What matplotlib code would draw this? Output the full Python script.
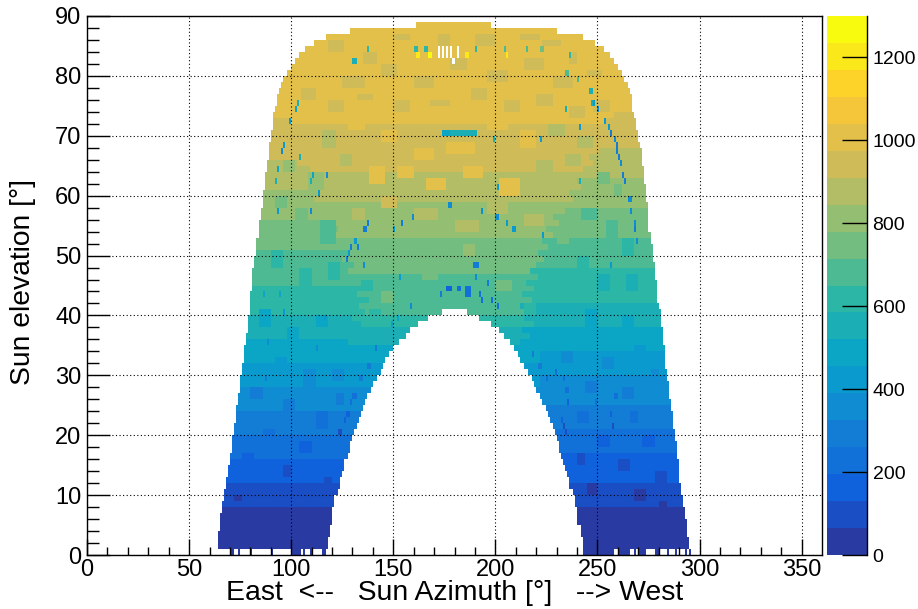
import numpy as np
import matplotlib
matplotlib.use('Agg')
import matplotlib.pyplot as plt
from matplotlib.colors import LinearSegmentedColormap, ListedColormap, BoundaryNorm

plt.rcParams['font.family'] = ['Liberation Sans', 'DejaVu Sans']

# outer edges of the filled area per 1 deg elevation row (row 0 is handled apart)
left_edge = [64, 64, 64, 64, 65, 65, 65, 66, 66, 67, 67, 68, 68, 69, 69, 70, 70, 71, 71, 71,
             72, 72, 73, 73, 73, 74, 74, 75, 75, 75, 76, 76, 77, 77, 77, 78, 78, 79, 79, 79,
             80, 80, 80, 80, 81, 81, 81, 81, 82, 82, 83, 83, 83, 84, 84, 84, 85, 85, 86, 86,
             86, 87, 87, 87, 88, 88, 89, 89, 89, 90, 90, 91, 91, 91, 92, 93, 93, 94, 95, 96,
             98, 100, 102, 104, 107, 111, 117, 129, 161]
right_edge = [296, 295, 295, 294, 294, 294, 293, 293, 292, 292, 291, 291, 290, 290, 290, 290, 289, 289, 289, 288,
              288, 287, 287, 287, 286, 286, 285, 285, 285, 284, 284, 283, 283, 283, 283, 282, 282, 282, 281, 281,
              281, 280, 279, 279, 279, 279, 278, 278, 278, 277, 277, 277, 276, 276, 275, 275, 275, 275, 275, 274,
              274, 274, 273, 273, 273, 272, 272, 272, 271, 270, 270, 269, 269, 268, 267, 267, 267, 266, 265, 263,
              262, 260, 258, 256, 253, 249, 243, 230, 198]
# the empty hole under the arc, rows 0 to 40
hole_left = [118, 118, 118, 119, 119, 120, 120, 120, 121, 121, 123, 124, 124, 125, 126, 126, 128, 129, 129, 130,
             131, 132, 133, 134, 135, 136, 137, 139, 140, 142, 144, 145, 146, 148, 150, 153, 156, 158, 162, 167,
             174]
hole_right = [243, 243, 243, 242, 242, 240, 240, 240, 239, 239, 238, 236, 236, 235, 234, 233, 232, 231, 231, 230,
              229, 228, 227, 226, 225, 223, 222, 220, 219, 218, 216, 214, 212, 211, 209, 207, 204, 202, 198, 192,
              186]
# bottom row only has a few filled stretches
row0_stretches = [(70, 72), (74, 75), (80, 81), (90, 91), (100, 105), (106, 107), (109, 110), (115, 117),
                  (243, 258), (260, 266), (268, 269), (270, 274), (278, 280), (284, 285), (288, 289), (293, 294), (295, 296)]

# irradiance per elevation row for the east flank, the middle and the west flank
east_vals = [40, 40, 42, 44, 46, 48, 52, 60, 72, 88, 105, 122, 140, 152, 170, 190, 200, 215, 235, 255,
             270, 285, 300, 315, 330, 345, 358, 375, 395, 415, 430, 445, 462, 478, 495, 510, 525, 545, 560, 575,
             590, 605, 620, 632, 642, 655, 665, 675, 690, 700, 712, 725, 738, 750, 762, 775, 790, 800, 815, 825,
             838, 852, 865, 880, 890, 905, 915, 925, 935, 945, 955, 965, 970, 975, 980, 985, 990, 995, 1000, 1000,
             1005, 1005, 1005, 1010, 1010, 1010, 1010, 1010, 1010]
mid_vals = [40, 40, 42, 44, 46, 48, 52, 60, 72, 88, 105, 122, 140, 152, 170, 190, 200, 215, 235, 255,
            270, 285, 300, 315, 330, 345, 358, 375, 395, 415, 430, 445, 462, 478, 495, 520, 545, 570, 595, 620,
            650, 655, 662, 670, 675, 680, 700, 715, 725, 740, 755, 765, 775, 785, 795, 805, 815, 825, 838, 850,
            860, 875, 890, 905, 915, 925, 935, 945, 955, 960, 965, 970, 980, 985, 990, 985, 990, 995, 1000, 1000,
            1005, 1005, 1008, 1010, 1010, 1015, 1015, 1015, 1015]
west_vals = [40, 40, 42, 44, 46, 48, 52, 58, 68, 82, 100, 115, 132, 145, 160, 180, 192, 205, 222, 240,
             255, 270, 285, 300, 315, 330, 345, 358, 372, 388, 400, 415, 430, 445, 458, 472, 490, 510, 528, 545,
             560, 572, 585, 598, 610, 620, 632, 645, 658, 668, 680, 695, 708, 722, 735, 750, 762, 775, 788, 800,
             810, 825, 840, 855, 868, 880, 895, 905, 918, 930, 940, 950, 960, 968, 975, 985, 990, 995, 1000, 1000,
             1003, 1005, 1005, 1010, 1010, 1010, 1010, 1010, 1010]
# where the flanks end, row by row: the change of colour wanders along the sun tracks
zone_east_end = [120, 120, 120, 120, 120, 120, 120, 120, 120, 120, 120, 120, 120, 120, 120, 120, 120, 120, 120, 120,
                 120, 120, 120, 120, 120, 120, 120, 120, 120, 120, 120, 120, 120, 120, 125, 128, 125, 130, 134, 130,
                 136, 133, 138, 132, 135, 130, 134, 128, 131, 125, 128, 122, 125, 120, 123, 116, 119, 114, 117, 111,
                 114, 108, 111, 106, 109, 103, 106, 101, 104, 99, 102, 98, 100, 96, 99, 96, 96, 96, 96, 96,
                 96, 96, 96, 96, 96, 96, 96, 96, 96]
zone_west_start = [222, 222, 222, 222, 222, 222, 222, 222, 222, 222, 222, 222, 222, 222, 222, 222, 222, 222, 222, 222,
                   222, 222, 222, 222, 222, 222, 222, 222, 222, 222, 222, 222, 222, 222, 215, 212, 217, 213, 219, 214,
                   216, 212, 218, 213, 219, 215, 221, 217, 220, 224, 221, 226, 223, 228, 225, 231, 228, 234, 232, 238,
                   236, 242, 240, 245, 243, 248, 246, 251, 249, 254, 252, 256, 254, 258, 256, 260, 260, 260, 260, 260,
                   260, 260, 260, 260, 260, 260, 260, 260, 260]

# single cells and short bars: az from, az to, elevation row, value
streaks = [
    (103, 104, 75, 520), (102, 103, 74, 480), (99, 100, 72, 400), (96, 97, 68, 430), (95, 96, 67, 350),
    (93, 94, 64, 500), (92, 93, 62, 540), (104, 105, 66, 560), (110, 111, 63, 480), (109, 110, 62, 520),
    (117, 118, 63, 380), (113, 114, 60, 400), (93, 94, 57, 450), (109, 110, 57, 380), (137, 138, 55, 300),
    (135, 137, 54, 300), (154, 155, 55, 280), (159, 160, 56, 330), (177, 179, 58, 330), (150, 151, 54, 450),
    (131, 132, 52, 420), (129, 130, 51, 300), (132, 133, 51, 300), (128, 129, 50, 420), (127, 128, 49, 280),
    (135, 136, 48, 330), (174, 179, 70, 500), (178, 191, 70, 520), (199, 200, 69, 520), (248, 249, 75, 430),
    (250, 251, 74, 380), (253, 254, 72, 400), (255, 256, 71, 400), (256, 257, 70, 300), (258, 259, 69, 330),
    (259, 260, 68, 300), (259, 260, 67, 280), (260, 261, 66, 300), (261, 262, 65, 330), (262, 263, 63, 300),
    (263, 264, 62, 300), (265, 267, 59, 350), (266, 267, 57, 350), (268, 269, 55, 350), (268, 269, 54, 300),
    (269, 270, 52, 330), (241, 242, 71, 420), (222, 223, 69, 430), (234, 235, 74, 520), (201, 202, 61, 420),
    (193, 194, 57, 380), (200, 202, 56, 330), (205, 206, 55, 420), (208, 210, 54, 400), (223, 224, 53, 430),
    (241, 242, 62, 520), (189, 192, 48, 300), (256, 257, 48, 400), (178, 179, 58, 350),
    (176, 179, 44, 190), (181, 183, 44, 210), (185, 188, 44, 220), (185, 188, 43, 200), (192, 193, 43, 230),
    (173, 174, 43, 260), (190, 191, 46, 330), (196, 197, 45, 300), (193, 194, 42, 240), (198, 199, 42, 240),
    (201, 202, 41, 220), (158, 159, 41, 360), (153, 154, 46, 400),
    # dark arcs on the two legs
    (218, 219, 33, 300), (221, 223, 31, 270), (225, 226, 29, 240), (229, 230, 30, 240), (233, 234, 29, 220),
    (234, 236, 27, 200), (235, 236, 25, 190), (232, 233, 22, 130), (233, 234, 21, 120), (234, 235, 20, 110),
    (257, 258, 21, 110), (256, 257, 23, 170), (258, 260, 26, 210), (249, 250, 25, 200), (123, 125, 20, 110),
    (126, 127, 22, 170), (127, 129, 23, 190), (129, 130, 25, 220), (130, 132, 26, 230), (133, 135, 29, 270),
    (137, 139, 31, 260), (141, 142, 34, 320), (112, 113, 34, 340), (116, 117, 39, 440), (87, 88, 29, 260),
    (88, 89, 35, 380), (86, 87, 43, 480), (94, 95, 43, 460), (96, 97, 40, 430), (152, 153, 39, 460), (149, 150, 38, 470),
    # single green and yellow cells close to the zenith
    (130, 132, 82, 560), (137, 138, 84, 640), (160, 162, 84, 600), (165, 167, 84, 600), (172, 173, 84, 620),
    (185, 187, 83, 1180), (190, 191, 84, 620), (204, 205, 84, 680), (215, 216, 84, 680), (222, 224, 84, 720),
    (234, 236, 80, 700), (240, 241, 79, 700), (246, 248, 77, 560), (247, 248, 75, 560), (236, 237, 83, 640),
    (161, 163, 83, 1220), (167, 169, 83, 1260), (205, 206, 83, 1170),
]

# blocks of slightly different irradiance: az from, az to, row from, row to, value
blocks = [
    (118, 126, 84, 86, 960), (135, 142, 82, 84, 950), (150, 158, 86, 87, 950), (172, 178, 85, 87, 945),
    (190, 200, 85, 87, 945), (212, 222, 86, 87, 950), (223, 232, 85, 86, 940), (236, 240, 82, 84, 950),
    (125, 136, 78, 80, 945), (144, 152, 80, 82, 940), (160, 170, 78, 80, 950), (178, 186, 81, 83, 940),
    (196, 206, 79, 81, 930), (214, 224, 81, 83, 930), (228, 238, 78, 80, 935), (245, 252, 80, 81, 940),
    (105, 112, 76, 78, 940), (118, 126, 74, 76, 925), (132, 140, 76, 77, 930), (150, 158, 74, 76, 930),
    (168, 178, 75, 76, 950), (188, 196, 76, 78, 930), (204, 212, 74, 76, 930), (220, 228, 75, 77, 925),
    (236, 244, 73, 75, 915), (248, 256, 74, 76, 930), (100, 108, 70, 72, 920), (115, 122, 68, 71, 900),
    (128, 136, 71, 73, 1020), (144, 152, 69, 71, 1030), (160, 170, 66, 68, 1010), (176, 190, 67, 69, 1030),
    (196, 206, 71, 73, 1030), (212, 220, 68, 71, 1020), (226, 234, 70, 72, 880), (240, 248, 68, 70, 870),
    (96, 102, 64, 66, 840), (108, 116, 61, 64, 830), (124, 130, 65, 67, 850), (138, 146, 62, 65, 990),
    (152, 160, 63, 65, 1000), (166, 176, 61, 63, 1000), (184, 194, 63, 65, 1010), (202, 212, 60, 63, 1000),
    (220, 228, 63, 66, 860), (234, 242, 65, 67, 860), (250, 256, 62, 64, 760), (258, 262, 60, 62, 720),
    (92, 98, 58, 60, 760), (102, 108, 55, 58, 720), (114, 122, 52, 56, 700), (130, 136, 56, 58, 860),
    (144, 152, 58, 60, 910), (160, 172, 56, 58, 880), (180, 192, 54, 56, 860), (196, 206, 57, 59, 890),
    (214, 224, 55, 57, 860), (230, 236, 52, 55, 720), (242, 250, 56, 58, 700), (254, 260, 53, 56, 650),
    (262, 268, 50, 53, 600), (240, 246, 47, 50, 600), (250, 256, 44, 47, 540), (264, 270, 44, 47, 520),
    (226, 232, 43, 46, 600), (214, 220, 40, 42, 600), (244, 250, 38, 41, 470), (262, 268, 38, 40, 470),
    (90, 96, 48, 51, 630), (104, 110, 45, 48, 610), (118, 124, 46, 49, 640), (134, 140, 44, 46, 640),
    (144, 150, 42, 44, 720), (164, 172, 46, 48, 770), (184, 190, 50, 52, 830), (200, 208, 44, 46, 720),
    (208, 214, 48, 50, 770), (84, 90, 38, 41, 510), (98, 104, 36, 38, 500), (112, 118, 38, 40, 500),
    (126, 132, 36, 39, 570), (138, 144, 39, 41, 640), (92, 98, 31, 33, 400), (106, 112, 28, 31, 370),
    (120, 126, 29, 31, 370), (80, 86, 26, 28, 310), (96, 102, 24, 26, 280), (112, 118, 21, 24, 240),
    (122, 126, 25, 27, 280), (86, 92, 19, 21, 200), (104, 110, 17, 19, 170), (76, 82, 15, 17, 140),
    (96, 100, 13, 15, 110), (116, 120, 11, 13, 90), (88, 92, 10, 12, 75), (72, 76, 9, 10, 60),
    (232, 238, 32, 34, 330), (252, 258, 31, 33, 360), (268, 274, 33, 35, 400), (244, 250, 27, 29, 290),
    (262, 268, 26, 28, 290), (276, 280, 29, 31, 340), (240, 246, 22, 24, 210), (266, 270, 22, 24, 220),
    (250, 256, 18, 20, 160), (272, 278, 18, 20, 170), (240, 244, 15, 17, 120), (260, 266, 14, 16, 100),
    (278, 284, 12, 14, 90), (245, 250, 10, 12, 60), (268, 274, 9, 11, 55), (280, 284, 8, 9, 50),
]

bird_stops = [(0.2082, 0.1664, 0.5293), (0.0592, 0.3599, 0.8684), (0.0780, 0.5041, 0.8385),
              (0.0232, 0.6419, 0.7914), (0.1802, 0.7178, 0.6425), (0.5301, 0.7492, 0.4662),
              (0.8186, 0.7328, 0.3499), (0.9956, 0.7862, 0.1968), (0.9764, 0.9832, 0.0539)]
bird = LinearSegmentedColormap.from_list('bird', bird_stops, N=256)
levels = np.linspace(0, 1300, 21)
cmap = ListedColormap(bird(np.linspace(0.04, 1, 20)))
norm = BoundaryNorm(levels, cmap.N)

az_bins = np.arange(0, 361)
el_bins = np.arange(0, 91)
grid = np.full((90, 360), np.nan)
for el in range(1, len(left_edge)):
    for az in range(left_edge[el], right_edge[el]):
        if az < zone_east_end[el]:
            grid[el, az] = east_vals[el]
        elif az >= zone_west_start[el]:
            grid[el, az] = west_vals[el]
        else:
            grid[el, az] = mid_vals[el]
for a0, a1 in row0_stretches:
    grid[0, a0:a1] = 40
for el in range(len(hole_left)):
    grid[el, hole_left[el]:hole_right[el]] = np.nan
for a0, a1, e0, e1, val in blocks:
    part = grid[e0:e1, a0:a1]
    part[~np.isnan(part)] = val
for a0, a1, el, val in streaks:
    mask = ~np.isnan(grid[el, a0:a1])
    grid[el, a0:a1][mask] = val
# small white patch near the zenith
for a0, a1, el in [(179, 180, 82), (172, 173, 84), (174, 175, 84), (176, 177, 84), (178, 179, 84), (181, 182, 84),
                   (172, 173, 83), (174, 175, 83), (176, 177, 83), (178, 179, 83), (181, 182, 83)]:
    grid[el, a0:a1] = np.nan

W, H = 918, 609
fig = plt.figure(figsize=(W / 100, H / 100), dpi=100)
ax = fig.add_axes([87 / W, 1 - 555 / H, (822 - 87) / W, (555 - 16) / H])
mesh = ax.pcolormesh(az_bins, el_bins, np.ma.masked_invalid(grid), cmap=cmap, norm=norm)
ax.set_xlim(0, 360)
ax.set_ylim(0, 90)
ax.set_xticks(range(0, 351, 50))
ax.set_xticks(range(0, 360, 10), minor=True)
ax.set_yticks(range(0, 91, 10))
ax.set_yticks(range(0, 91, 2), minor=True)
ax.tick_params(axis='x', which='major', direction='in', length=11.5, width=1, labelsize=17, pad=3)
ax.tick_params(axis='x', which='minor', direction='in', length=5.8, width=1)
ax.tick_params(axis='y', which='major', direction='in', length=16.5, width=1, labelsize=17, pad=4)
ax.tick_params(axis='y', which='minor', direction='in', length=8.5, width=1)
ax.grid(True, which='major', color='black', linestyle=(0, (1, 2.2)), linewidth=0.8)
ax.set_axisbelow(False)
for s in ax.spines.values():
    s.set_linewidth(1)
fig.text(455 / W, 1 - 593 / H, 'East  <--   Sun Azimuth [°]   --> West', ha='center', va='center', fontsize=20.4)
fig.text(23 / W, 1 - 282 / H, 'Sun elevation [°]', ha='center', va='center', rotation=90, fontsize=20.3)

cax = fig.add_axes([827 / W, 1 - 555 / H, 40 / W, (555 - 16) / H])
cb = fig.colorbar(mesh, cax=cax, spacing='proportional', drawedges=False)
cb.set_ticks(range(0, 1201, 200))
cb.ax.minorticks_off()
cb.ax.tick_params(axis='y', direction='in', length=18, width=1, labelsize=14, pad=4)
for name, s in cb.ax.spines.items():
    s.set_visible(name == 'right')
cb.outline.set_visible(False)
cb.ax.spines['right'].set_visible(True)
cb.ax.spines['right'].set_linewidth(1)

plt.savefig('out.png', dpi=100)
